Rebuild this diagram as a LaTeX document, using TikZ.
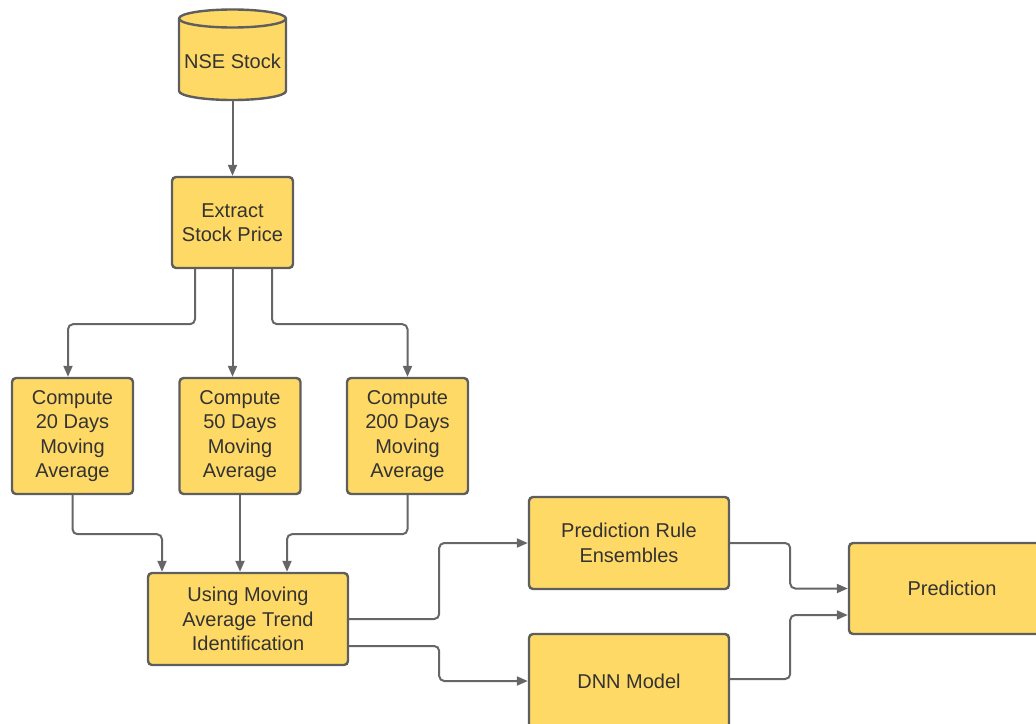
\documentclass[tikz,border=0pt]{standalone}
\usepackage{fontspec}
\setmainfont{Liberation Sans}
\usetikzlibrary{arrows.meta,calc}
\definecolor{boxfill}{HTML}{FFD966}
\definecolor{boxline}{HTML}{5E5E5E}
\definecolor{wireline}{HTML}{666666}
\definecolor{txt}{HTML}{333333}
\begin{document}
\begin{tikzpicture}[x=1pt,y=-1pt,
  every node/.style={font=\fontsize{20}{24.5}\selectfont, text=txt},
  stepbox/.style={draw=boxline, fill=boxfill, line width=2.4pt, rounded corners=4pt,
    align=center, inner sep=0pt},
  conn/.style={draw=wireline, line width=2pt, rounded corners=5pt,
    -{Triangle[length=11pt,width=9pt]}},
]
\useasboundingbox (0,0) rectangle (1036,723);

% database cylinder
\node[minimum width=107pt, minimum height=91pt, inner sep=0pt] (nse) at (232.5,54.5) {};
\filldraw[draw=boxline, fill=boxfill, line width=2.4pt]
  (179,18.5) -- (179,91)
  arc[start angle=180, end angle=360, x radius=53.5pt, y radius=9pt]
  -- (286,18.5)
  arc[start angle=0, end angle=180, x radius=53.5pt, y radius=9pt] -- cycle;
\draw[draw=boxline, line width=2.4pt]
  (179,18.5) arc[start angle=180, end angle=360, x radius=53.5pt, y radius=9pt];
\node at (232.5,61) {NSE Stock};

% process boxes
\node[stepbox, minimum width=121pt, minimum height=91pt] (extract) at (232.5,222.5) {Extract\\Stock Price};
\node[stepbox, minimum width=121pt, minimum height=116pt] (c20) at (72.5,436) {Compute\\20 Days\\Moving\\Average};
\node[stepbox, minimum width=121pt, minimum height=116pt] (c50) at (240,436) {Compute\\50 Days\\Moving\\Average};
\node[stepbox, minimum width=121pt, minimum height=116pt] (c200) at (407.5,436) {Compute\\200 Days\\Moving\\Average};
\node[stepbox, minimum width=200pt, minimum height=92pt] (trend) at (248,619) {Using Moving\\Average Trend\\Identification};
\node[stepbox, minimum width=200pt, minimum height=92pt] (pre) at (629,543) {Prediction Rule\\Ensembles};
\node[stepbox, minimum width=200pt, minimum height=94pt] (dnn) at (629,681) {DNN Model};
\node[stepbox, minimum width=206pt, minimum height=91pt] (pred) at (952,588.5) {Prediction};

% connectors
\draw[conn] (nse.south) -- (extract.north);
\draw[conn] ([xshift=-37.5pt]extract.south) -- ++(0,55) -| ([xshift=-4.5pt]c20.north);
\draw[conn] (extract.south) -- (extract.south |- c50.north);
\draw[conn] ([xshift=39.5pt]extract.south) -- ++(0,55) -| (c200.north);

\draw[conn] (c20.south) -- ++(0,39) -| ([xshift=-86pt]trend.north);
\draw[conn] (c50.south) -- (c50.south |- trend.north);
\draw[conn] (c200.south) -- ++(0,39) -| ([xshift=39pt]trend.north);

\draw[conn] (trend.east) -- ++(90,0) |- (pre.west);
\draw[conn] ([yshift=-27pt]trend.east) -- ++(90,0) |- (dnn.west);

\draw[conn] (pre.east) -- ++(60,0) |- (pred.west);
\draw[conn] ([yshift=2pt]dnn.east) -- ++(60,0) |- ([yshift=-26.5pt]pred.west);
\end{tikzpicture}
\end{document}
